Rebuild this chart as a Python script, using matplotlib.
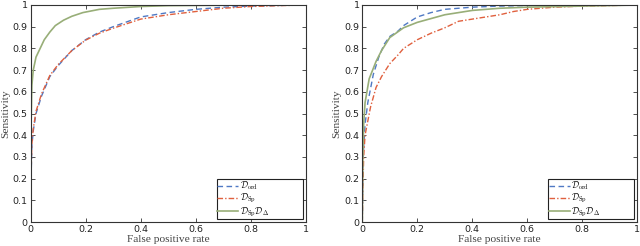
import numpy as np
import matplotlib
matplotlib.use("Agg")
import matplotlib.pyplot as plt

plt.rcParams['mathtext.fontset'] = 'cm'

# left panel
fpr_l_ord = [0, 0.002, 0.005, 0.01, 0.02, 0.04, 0.07, 0.1, 0.15, 0.2, 0.25, 0.3, 0.4, 0.5, 0.6, 0.7, 0.8, 0.9, 1.0]
sen_l_ord = [0, 0.2, 0.35, 0.42, 0.5, 0.58, 0.67, 0.72, 0.79, 0.84, 0.875, 0.9, 0.945, 0.965, 0.98, 0.99, 0.995, 0.998, 1.0]
fpr_l_sp = [0, 0.002, 0.005, 0.01, 0.02, 0.04, 0.07, 0.1, 0.15, 0.2, 0.25, 0.3, 0.4, 0.5, 0.6, 0.7, 0.8, 0.9, 1.0]
sen_l_sp = [0, 0.22, 0.36, 0.43, 0.51, 0.59, 0.675, 0.725, 0.79, 0.838, 0.87, 0.893, 0.935, 0.955, 0.97, 0.985, 0.993, 0.997, 1.0]
fpr_l_spd = [0, 0.002, 0.005, 0.01, 0.02, 0.035, 0.05, 0.07, 0.09, 0.12, 0.15, 0.19, 0.25, 0.3, 0.4, 0.5, 0.7, 1.0]
sen_l_spd = [0, 0.45, 0.63, 0.7, 0.76, 0.8, 0.84, 0.875, 0.905, 0.93, 0.948, 0.965, 0.98, 0.985, 0.993, 0.997, 0.999, 1.0]

# right panel
fpr_r_ord = [0, 0.003, 0.01, 0.02, 0.04, 0.06, 0.08, 0.1, 0.13, 0.15, 0.2, 0.25, 0.3, 0.4, 0.5, 0.7, 1.0]
sen_r_ord = [0, 0.3, 0.45, 0.55, 0.68, 0.76, 0.82, 0.855, 0.88, 0.905, 0.945, 0.965, 0.98, 0.99, 0.995, 1.0, 1.0]
fpr_r_sp = [0, 0.002, 0.005, 0.01, 0.03, 0.05, 0.07, 0.1, 0.13, 0.15, 0.2, 0.25, 0.3, 0.35, 0.4, 0.45, 0.5, 0.55, 0.6, 0.7, 0.8, 1.0]
sen_r_sp = [0, 0.15, 0.3, 0.4, 0.53, 0.62, 0.67, 0.73, 0.77, 0.8, 0.84, 0.87, 0.895, 0.925, 0.935, 0.945, 0.955, 0.97, 0.98, 0.99, 0.995, 1.0]
fpr_r_spd = [0, 0.002, 0.005, 0.01, 0.025, 0.05, 0.07, 0.1, 0.15, 0.2, 0.3, 0.4, 0.5, 0.6, 0.8, 1.0]
sen_r_spd = [0, 0.3, 0.45, 0.55, 0.66, 0.74, 0.79, 0.85, 0.895, 0.92, 0.955, 0.975, 0.985, 0.99, 0.995, 1.0]

labels = [r'$\mathcal{D}_{\mathrm{ord}}$', r'$\mathcal{D}_{\mathrm{Sp}}$',
          r'$\mathcal{D}_{\mathrm{Sp}}\mathcal{D}_{\Delta}$']
c_ord = '#4f79c4'
c_sp = '#e0603e'
c_spd = '#98ae78'

fig = plt.figure(figsize=(6.4, 2.46), dpi=100)
ax1 = fig.add_axes([30.5 / 640, 24 / 246, 275.5 / 640, 217 / 246])
ax2 = fig.add_axes([362.3 / 640, 24 / 246, 275 / 640, 217 / 246])

panels = [
    (ax1, fpr_l_ord, sen_l_ord, fpr_l_sp, sen_l_sp, fpr_l_spd, sen_l_spd),
    (ax2, fpr_r_ord, sen_r_ord, fpr_r_sp, sen_r_sp, fpr_r_spd, sen_r_spd),
]

for ax, xo, yo, xs, ys, xd, yd in panels:
    ax.plot(xo, yo, '--', color=c_ord, lw=1.0, dashes=(4, 2.5), label=labels[0])
    ax.plot(xs, ys, '-.', color=c_sp, lw=1.0, dashes=(4, 1.5, 1, 1.5), label=labels[1])
    ax.plot(xd, yd, '-', color=c_spd, lw=1.2, label=labels[2])
    ax.set_xlim(0, 1)
    ax.set_ylim(0, 1)
    ax.set_xticks(np.arange(0, 1.01, 0.2))
    ax.set_xticklabels(['0', '0.2', '0.4', '0.6', '0.8', '1'])
    ax.set_yticks(np.arange(0, 1.01, 0.1))
    ax.set_yticklabels(['0', '0.1', '0.2', '0.3', '0.4', '0.5', '0.6', '0.7', '0.8', '0.9', '1'])
    ax.tick_params(direction='in', top=True, right=True, length=3, width=0.6,
                   labelsize=6.8, pad=2, color='#333333', labelcolor='#222222')
    for s in ax.spines.values():
        s.set_linewidth(0.8)
        s.set_color('#333333')
    ax.set_xlabel('False positive rate', family='Liberation Serif', fontsize=8.2,
                  color='#444444', labelpad=1)
    ax.set_ylabel('Sensitivity', family='Liberation Serif', fontsize=8.2,
                  color='#444444', labelpad=2)
    w = ax.get_position().width * 640
    leg = ax.legend(loc='lower left', bbox_to_anchor=(1 - 89 / w, 3 / 217, 86 / w, 33 / 217),
                    mode='expand', fontsize=6.5, fancybox=False, framealpha=1,
                    edgecolor='#222222', borderpad=0.05, labelspacing=0.0,
                    handlelength=2.3, handletextpad=0.15, borderaxespad=0.0)
    leg.get_frame().set_linewidth(0.8)

fig.savefig('out.png', dpi=100)
